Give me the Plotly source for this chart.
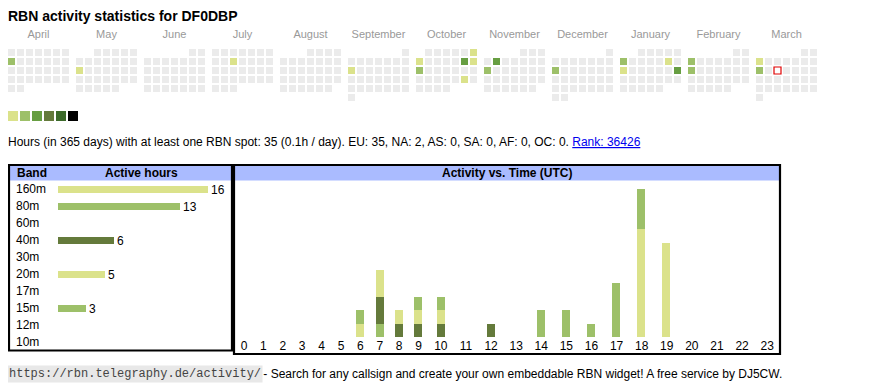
import datetime
import calendar
import plotly.graph_objects as go

# ---------------- data ----------------
TITLE = "RBN activity statistics for DF0DBP"
months = [(2024, 4), (2024, 5), (2024, 6), (2024, 7), (2024, 8), (2024, 9),
          (2024, 10), (2024, 11), (2024, 12), (2025, 1), (2025, 2), (2025, 3)]
month_names = ["April", "May", "June", "July", "August", "September",
               "October", "November", "December", "January", "February", "March"]

# active days (date, activity level 1..3)
active_dates = ["2024-04-08", "2024-05-13", "2024-07-10", "2024-09-09",
                "2024-10-06", "2024-10-07", "2024-10-12", "2024-10-13",
                "2024-10-14", "2024-10-26", "2024-11-05", "2024-11-11",
                "2024-12-09", "2025-01-06", "2025-01-11", "2025-01-13",
                "2025-01-19", "2025-02-03", "2025-02-10", "2025-03-03",
                "2025-03-10"]
active_levels = [2, 1, 1, 1, 1, 1, 3, 1, 2, 1, 3, 2, 2, 2, 1, 1, 3, 2, 2, 1, 2]
today = "2025-03-12"

level_colors = ["#dbe28b", "#9dc069", "#679e42", "#647a3b", "#3c6a2a", "#000000"]
empty_color = "#ebebeb"

bands = ["160m", "80m", "60m", "40m", "30m", "20m", "17m", "15m", "12m", "10m"]
band_hours = [16, 13, 0, 6, 0, 5, 0, 3, 0, 0]
band_colors = ["#dbe28b", "#9dc069", "#ffffff", "#647a3b", "#ffffff",
               "#dbe28b", "#ffffff", "#9dc069", "#ffffff", "#ffffff"]

hour_labels = [str(h) for h in range(24)]
# hours active per UTC hour, per band (stack order bottom->top)
hourly = {
    "160m": [0, 0, 0, 0, 0, 0, 1, 0, 0, 0, 0, 0, 0, 0, 0, 0, 0, 0, 8, 7, 0, 0, 0, 0],
    "80m":  [0, 0, 0, 0, 0, 0, 1, 1, 0, 0, 0, 0, 0, 0, 1, 2, 1, 4, 3, 0, 0, 0, 0, 0],
    "40m":  [0, 0, 0, 0, 0, 0, 0, 2, 1, 1, 1, 0, 1, 0, 0, 0, 0, 0, 0, 0, 0, 0, 0, 0],
    "20m":  [0, 0, 0, 0, 0, 0, 0, 2, 1, 1, 1, 0, 0, 0, 0, 0, 0, 0, 0, 0, 0, 0, 0, 0],
    "15m":  [0, 0, 0, 0, 0, 0, 0, 0, 0, 1, 1, 0, 0, 0, 1, 0, 0, 0, 0, 0, 0, 0, 0, 0],
}
hourly_colors = {"160m": "#dbe28b", "80m": "#9dc069", "40m": "#647a3b",
                 "20m": "#dbe28b", "15m": "#9dc069"}

info_text = ("Hours (in 365 days) with at least one RBN spot: 35 (0.1h / day). "
             "EU: 35, NA: 2, AS: 0, SA: 0, AF: 0, OC: 0. ")
rank_text = "Rank: 36426"
footer_url = "https://rbn.telegraphy.de/activity/"
footer_text = " - Search for any callsign and create your own embeddable RBN widget! A free service by DJ5CW."

# ---------------- layout helpers ----------------
# the page body keeps the browser's default 8px margin, so the figure
# starts at (8, 8) in the window; page coordinates are converted here.
OFF = 8
W, H = 870 - OFF, 390 - OFF
FONT = "Arial, Liberation Sans, sans-serif"


def px(x):
    return (x - OFF) / W


def py(y):
    return 1 - (y - OFF) / H


MONTH_STEP = 68 / 9.0  # block pitch in cell units

# calendar cell grid positions derived from dates
level_of = dict(zip(active_dates, active_levels))
gx, gy = [], []
ax_, ay_, ac_ = [], [], []
tx, ty = [], []
for mi, (yr, mo) in enumerate(months):
    first_wd, ndays = calendar.monthrange(yr, mo)
    for d in range(1, ndays + 1):
        wd = datetime.date(yr, mo, d).weekday()
        row = (d - 1 + first_wd) // 7
        xx = mi * MONTH_STEP + wd
        key = "%04d-%02d-%02d" % (yr, mo, d)
        if key in level_of:
            ax_.append(xx)
            ay_.append(row)
            ac_.append(level_colors[level_of[key] - 1])
        else:
            gx.append(xx)
            gy.append(row)
        if key == today:
            tx.append(xx)
            ty.append(row)

fig = go.Figure()

# calendar
fig.add_trace(go.Scatter(x=gx, y=gy, mode="markers", xaxis="x", yaxis="y",
                         marker=dict(symbol="square", size=7, color=empty_color,
                                     line=dict(width=0)), hoverinfo="skip"))
fig.add_trace(go.Scatter(x=ax_, y=ay_, mode="markers", xaxis="x", yaxis="y",
                         marker=dict(symbol="square", size=7, color=ac_,
                                     line=dict(width=0)), hoverinfo="skip"))
fig.add_trace(go.Scatter(x=tx, y=ty, mode="markers", xaxis="x", yaxis="y",
                         marker=dict(symbol="square", size=7, color="#ffffff",
                                     line=dict(width=1.2, color="#e00000")),
                         hoverinfo="skip"))
# month labels
fig.add_trace(go.Scatter(x=[mi * MONTH_STEP + 3 for mi in range(len(months))],
                         y=[-1.95] * len(months), mode="text", text=month_names,
                         textfont=dict(family=FONT, size=11, color="#999999"),
                         xaxis="x", yaxis="y", hoverinfo="skip"))
# colour scale legend
fig.add_trace(go.Scatter(x=[(13 - 11.5) / 9 + i * 12 / 9 for i in range(len(level_colors))],
                         y=[(116 - 52.5) / 9] * len(level_colors), mode="markers",
                         marker=dict(symbol="square", size=10, color=level_colors,
                                     line=dict(width=0)),
                         xaxis="x", yaxis="y", hoverinfo="skip"))

# band table bars
fig.add_trace(go.Bar(x=band_hours, y=list(range(len(bands))), orientation="h",
                     xaxis="x2", yaxis="y2", width=0.41,
                     marker=dict(color=band_colors, line=dict(width=0)),
                     text=[str(v) if v else "" for v in band_hours],
                     textposition="outside", cliponaxis=False, constraintext="none",
                     textfont=dict(family=FONT, size=12, color="#000000"),
                     hoverinfo="skip"))

# activity vs time: table-cell widths follow the label widths
cell_w = [19.4 if len(l) == 1 else 25.1 for l in hour_labels]
centers = []
acc = 0
for w in cell_w:
    centers.append(acc + w / 2)
    acc += w
total_w = acc
for band, vals in hourly.items():
    fig.add_trace(go.Bar(x=centers, y=vals, xaxis="x3", yaxis="y3", width=8,
                         marker=dict(color=hourly_colors[band], line=dict(width=0)),
                         hoverinfo="skip", name=band))

UNIT = 13.5
plot_left = 234.3
shapes = [
    dict(type="rect", xref="paper", yref="paper", x0=px(10), x1=px(231),
         y0=py(180.5), y1=py(166), fillcolor="#aabbff", line=dict(width=0), layer="below"),
    dict(type="rect", xref="paper", yref="paper", x0=px(235), x1=px(779),
         y0=py(180.5), y1=py(166), fillcolor="#aabbff", line=dict(width=0), layer="below"),
    dict(type="rect", xref="paper", yref="paper", x0=px(9), x1=px(232),
         y0=py(350.5), y1=py(165), line=dict(width=2.2, color="#000000")),
    dict(type="rect", xref="paper", yref="paper", x0=px(234), x1=px(780),
         y0=py(354), y1=py(165), line=dict(width=2.2, color="#000000")),
]

annotations = [
    dict(text="<b>" + TITLE + "</b>", x=px(6), y=py(16), xref="paper", yref="paper",
         xanchor="left", yanchor="middle", showarrow=False,
         font=dict(family=FONT, size=14, color="#000000")),
    dict(text=info_text + "<span style='color:#0000ee'><u>" + rank_text + "</u></span>",
         x=px(6), y=py(142), xref="paper", yref="paper", xanchor="left", yanchor="middle",
         showarrow=False, font=dict(family=FONT, size=12, color="#000000")),
    dict(text="<b>Band</b>", x=px(14.5), y=py(173), xref="paper", yref="paper",
         xanchor="left", yanchor="middle", showarrow=False,
         font=dict(family=FONT, size=12, color="#000000")),
    dict(text="<b>Active hours</b>", x=px(141.5), y=py(173), xref="paper", yref="paper",
         xanchor="center", yanchor="middle", showarrow=False,
         font=dict(family=FONT, size=12, color="#000000")),
    dict(text="<b>Activity vs. Time (UTC)</b>", x=px(507), y=py(173), xref="paper",
         yref="paper", xanchor="center", yanchor="middle", showarrow=False,
         font=dict(family=FONT, size=12, color="#000000")),
    dict(text=footer_url, x=px(7), y=py(374), xref="paper", yref="paper",
         xanchor="left", yanchor="middle", showarrow=False, bgcolor="#e8e8e8",
         borderpad=1, font=dict(family="Liberation Mono, DejaVu Sans Mono, monospace",
                                size=12, color="#444444")),
    dict(text=footer_text, x=px(258), y=py(374), xref="paper", yref="paper",
         xanchor="left", yanchor="middle", showarrow=False,
         font=dict(family=FONT, size=12, color="#000000")),
]
for i, b in enumerate(bands):
    annotations.append(dict(text=b, x=(14 - 58) / 9.375, y=i, xref="x2", yref="y2",
                            xanchor="left", yanchor="middle", showarrow=False,
                            font=dict(family=FONT, size=12, color="#000000")))

hidden = dict(visible=False, fixedrange=True)
fig.update_layout(
    width=W, height=H, margin=dict(l=0, r=0, t=0, b=0),
    paper_bgcolor="#ffffff", plot_bgcolor="rgba(0,0,0,0)",
    showlegend=False, barmode="stack", bargap=0,
    xaxis=dict(domain=[0, 1], range=[(OFF - 11.5) / 9, (870 - 11.5) / 9], **hidden),
    yaxis=dict(domain=[0, 1], range=[(390 - 52.5) / 9, (OFF - 52.5) / 9], **hidden),
    xaxis2=dict(domain=[px(10), px(231)], range=[-(58 - 10) / 9.375, (231 - 58) / 9.375],
                anchor="y2", **hidden),
    yaxis2=dict(domain=[py(351), py(181)],
                range=[(351 - 189.3) / 17.0, (181 - 189.3) / 17.0], anchor="x2", **hidden),
    xaxis3=dict(domain=[px(plot_left), px(plot_left + total_w)], range=[0, total_w],
                anchor="y3", tickmode="array", tickvals=centers, ticktext=hour_labels,
                showgrid=False, zeroline=False, showline=False, ticks="",
                tickfont=dict(family=FONT, size=12, color="#000000"), fixedrange=True),
    yaxis3=dict(domain=[py(337), py(183)], range=[0, (337 - 183) / UNIT], anchor="x3",
                **hidden),
    shapes=shapes, annotations=annotations,
)

fig.write_html("out.html")
